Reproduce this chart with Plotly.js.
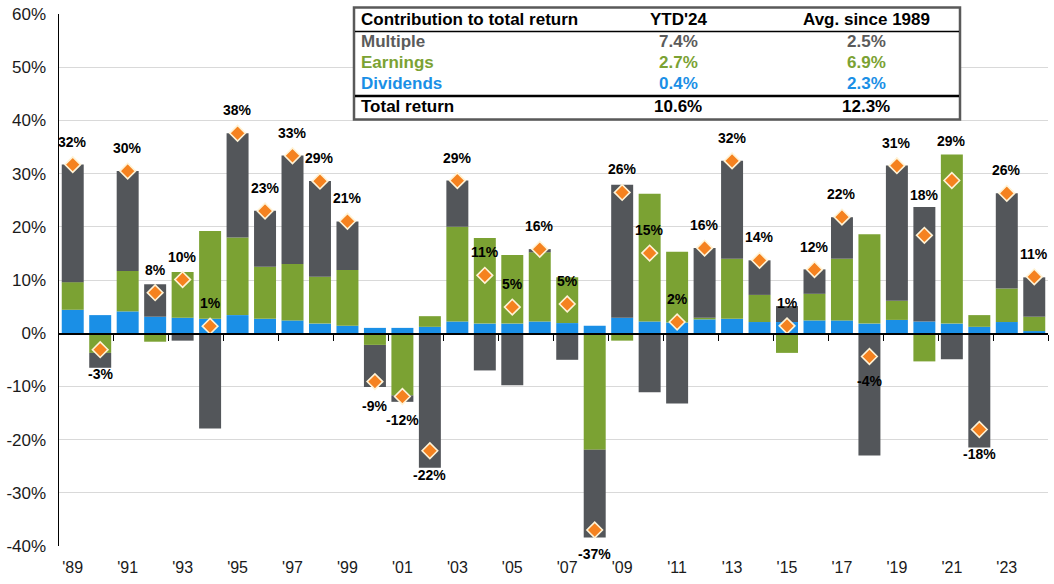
<!DOCTYPE html>
<html>
<head>
<meta charset="utf-8">
<script src="https://cdn.plot.ly/plotly-3.0.1.min.js"></script>
<style>
  html, body { margin: 0; padding: 0; background: #fff; }
  #chart { width: 1054px; height: 584px; }
</style>
</head>
<body>
<div id="chart"></div>
<script>
// ---- Data (percent) ----
const years = [1989,1990,1991,1992,1993,1994,1995,1996,1997,1998,1999,2000,2001,2002,2003,2004,2005,2006,
               2007,2008,2009,2010,2011,2012,2013,2014,2015,2016,2017,2018,2019,2020,2021,2022,2023,2024];
const dividends = [4.4,3.4,4.1,3.1,2.9,2.7,3.4,2.7,2.4,1.8,1.4,1.0,1.0,1.2,2.2,1.8,1.8,2.2,
                   1.9,1.4,2.9,2.2,2.0,2.6,2.7,2.1,2.1,2.4,2.4,1.8,2.5,2.2,1.8,1.2,2.1,0.4];
const earnings  = [5.2,-3.7,7.6,-1.6,8.6,16.5,14.6,9.8,10.6,8.8,10.5,-2.2,-11.7,2.0,17.8,16.1,12.9,13.0,
                   8.6,-21.9,-1.4,24.0,13.3,0.3,11.3,5.1,-3.7,5.0,11.6,16.8,3.6,-5.3,31.8,2.2,6.3,2.7];
const multiple  = [22.1,-2.8,18.8,6.1,-1.4,-17.9,19.6,10.5,20.4,18.0,9.1,-7.9,-1.2,-25.3,8.7,-7.0,-9.8,0.6,
                   -5.0,-16.5,25.0,-11.1,-13.2,13.1,18.4,6.5,3.0,4.6,7.8,-23.0,25.4,21.5,-4.9,-21.5,17.9,7.4];
const totals    = [31.69,-3.1,30.47,7.62,10.08,1.32,37.58,22.96,33.36,28.58,21.04,-9.1,-11.89,-22.1,28.68,10.88,4.91,15.79,
                   5.49,-37.0,26.46,15.06,2.11,16.0,32.39,13.69,1.38,11.96,21.83,-4.38,31.49,18.4,28.71,-18.11,26.29,10.6];

const xTickYears  = [1989,1991,1993,1995,1997,1999,2001,2003,2005,2007,2009,2011,2013,2015,2017,2019,2021,2023];
const xTickLabels = ["'89","'91","'93","'95","'97","'99","'01","'03","'05","'07","'09","'11","'13","'15","'17","'19","'21","'23"];
const yTickVals   = [-40,-30,-20,-10,0,10,20,30,40,50,60];
const yTickLabels = ["-40%","-30%","-20%","-10%","0%","10%","20%","30%","40%","50%","60%"];

// Table
const tableHeader = ["Contribution to total return", "YTD'24", "Avg. since 1989"];
const tableRows = [
  ["Multiple",  "7.4%",  "2.5%"],
  ["Earnings",  "2.7%",  "6.9%"],
  ["Dividends", "0.4%",  "2.3%"],
  ["Total return", "10.6%", "12.3%"]
];

// ---- Styles ----
const C_MULT = '#53565a', C_EARN = '#7ba233', C_DIV = '#1a8fe6', C_DOT = '#f5821f';
const rowColors = [ '#5b5b5b', C_EARN, C_DIV, '#000000' ];
const FONT = '"Liberation Sans", Arial, sans-serif';

const W = 1054, H = 584;
const M = { l: 59, r: 6, t: 14, b: 38 };
const PW = W - M.l - M.r, PH = H - M.t - M.b;
const px = x => (x - M.l) / PW;
const py = y => (H - M.b - y) / PH;

// label placement overrides (pixels above the diamond) where the label sits above the bar
const labelLift = { 2020: 40, 2021: 39 };

const barCommon = { type: 'bar', x: years, width: 0.8, hoverinfo: 'skip' };
const traces = [
  Object.assign({}, barCommon, { name: 'Dividends', y: dividends, marker: { color: C_DIV } }),
  Object.assign({}, barCommon, { name: 'Earnings',  y: earnings,  marker: { color: C_EARN } }),
  Object.assign({}, barCommon, { name: 'Multiple',  y: multiple,  marker: { color: C_MULT } }),
  { type: 'scatter', mode: 'markers', x: years, y: totals, xaxis: 'x2', yaxis: 'y', hoverinfo: 'skip',
    marker: { symbol: 'diamond', size: 12, color: C_DOT, line: { color: '#fff3d6', width: 1.6 } } }
];

const annotations = totals.map((t, i) => ({
  x: years[i], y: t, xref: 'x', yref: 'y', showarrow: false,
  text: Math.round(t) + '%',
  yshift: labelLift[years[i]] !== undefined ? labelLift[years[i]] : (t >= 0 ? 23 : -24),
  font: { family: FONT, size: 14, color: '#000', weight: 'bold' }
}));

// table text
const colX = [359, 678, 866];
const rowY = [19, 41.7, 62.7, 84, 106.7];
tableHeader.forEach((h, j) => annotations.push({
  xref: 'paper', yref: 'paper', x: px(colX[j]), y: py(rowY[0]), showarrow: false,
  xanchor: j === 0 ? 'left' : 'center', yanchor: 'middle', text: '<b>' + h + '</b>',
  font: { family: FONT, size: 17, color: '#000' }
}));
tableRows.forEach((r, i) => r.forEach((c, j) => annotations.push({
  xref: 'paper', yref: 'paper', x: px(colX[j]), y: py(rowY[i + 1]), showarrow: false,
  xanchor: j === 0 ? 'left' : 'center', yanchor: 'middle', text: '<b>' + c + '</b>',
  font: { family: FONT, size: 17, color: rowColors[i] }
})));

const shapes = [
  { type: 'rect', xref: 'paper', yref: 'paper', x0: px(354), x1: px(960), y0: py(119.5), y1: py(7.5),
    fillcolor: '#fff', line: { color: '#595959', width: 2.5 } },
  { type: 'line', xref: 'paper', yref: 'paper', x0: px(355), x1: px(959), y0: py(31.5), y1: py(31.5),
    line: { color: '#000', width: 1.5 } },
  { type: 'line', xref: 'paper', yref: 'paper', x0: px(355), x1: px(959), y0: py(96), y1: py(96),
    line: { color: '#000', width: 2.5 } }
];

const xr = [1988.5, 2024.5];
const layout = {
  width: W, height: H, margin: M, paper_bgcolor: '#fff', plot_bgcolor: '#fff',
  barmode: 'relative', showlegend: false,
  font: { family: FONT, color: '#1a1a1a' },
  xaxis: { range: xr, tickmode: 'array', tickvals: xTickYears, ticktext: xTickLabels,
           showgrid: false, zeroline: false, showline: false, ticks: '', ticklabelstandoff: 10,
           tickfont: { family: FONT, size: 16, color: '#1a1a1a' }, fixedrange: true },
  xaxis2: { range: xr, overlaying: 'x', anchor: 'free', position: (0 - (-40)) / 100,
            tickmode: 'array', tickvals: xTickYears.map(v => v + 1.5), showticklabels: false,
            ticks: 'outside', ticklen: 6, tickcolor: '#000', tickwidth: 1,
            showline: true, linecolor: '#000', linewidth: 1.5, showgrid: false, zeroline: false, fixedrange: true },
  yaxis: { range: [-40, 60], tickmode: 'array', tickvals: yTickVals, ticktext: yTickLabels,
           showgrid: true, gridcolor: '#d9d9d9', gridwidth: 1, zeroline: false,
           showline: true, linecolor: '#000', linewidth: 1.5, ticks: '', ticklabelstandoff: 8,
           tickfont: { family: FONT, size: 17, color: '#1a1a1a' }, fixedrange: true },
  annotations: annotations,
  shapes: shapes
};

Plotly.newPlot('chart', traces, layout, { displayModeBar: false, staticPlot: true });
</script>
</body>
</html>
